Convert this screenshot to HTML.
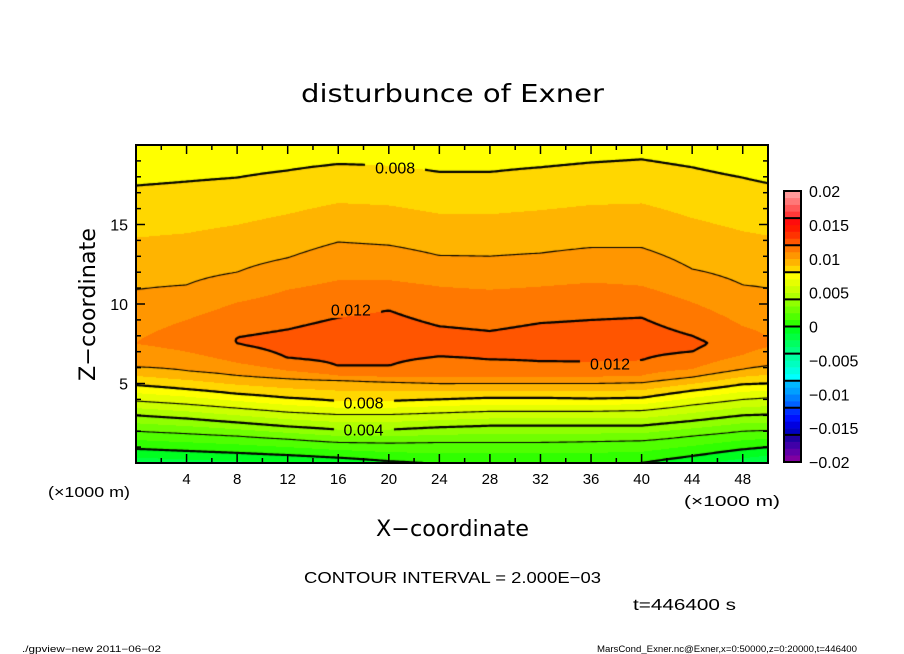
<!DOCTYPE html>
<html><head><meta charset="utf-8">
<style>
html,body{margin:0;padding:0;background:#fff;}
#wrap{position:relative;width:904px;height:654px;overflow:hidden;background:#fff;}
#field{position:absolute;left:136px;top:145px;}
#ov{position:absolute;left:0;top:0;}
text{font-family:"Liberation Sans","DejaVu Sans",sans-serif;fill:#000;}
</style></head>
<body>
<div id="wrap">
<canvas id="field" width="632" height="318"></canvas>
<svg id="ov" width="904" height="654"></svg>
</div>
<script>
// ---- data (values in units of 1e-3) ----
const colX   = [0,4,8,12,16,20,24,28,32,36,40,44,48,50];
const botV   = [-1.6,-1.4,-1.2,-1.0,-0.7,-0.2,0.1,0.1,0.1,0.1,0.0,-0.7,-1.5,-1.9];
const lvl2   = [2.0,1.85,1.7,1.5,1.3,1.25,1.3,1.3,1.3,1.35,1.4,1.7,2.0,2.05];
const lvl4   = [3.0,2.8,2.55,2.3,2.1,2.1,2.25,2.35,2.35,2.35,2.35,2.65,3.0,3.05];
const lvl6   = [3.9,3.7,3.45,3.2,3.05,3.05,3.15,3.25,3.25,3.25,3.3,3.65,4.0,4.1];
const lvl8   = [4.9,4.65,4.35,4.1,3.9,3.9,4.0,4.1,4.1,4.05,4.1,4.55,4.95,5.0];
const lvl10  = [6.05,5.8,5.5,5.3,5.2,5.1,5.0,5.0,5.0,5.0,5.05,5.4,5.9,6.1];
const lvl11lo= [7.5,7.0,6.3,5.8,5.5,5.4,5.4,5.4,5.4,5.4,5.5,5.9,6.8,7.3];
const lvl12lo= [null,null,7.5,6.6,6.1,6.1,6.7,6.5,6.4,6.35,6.45,7.0,null,null];
const peakV  = [11.05,11.5,12.02,12.4,12.6,12.6,12.4,12.35,12.45,12.5,12.5,12.25,11.5,11.05];
const peakZ  = [7.55,7.8,7.7,7.5,7.6,7.8,7.6,7.4,7.6,7.7,7.8,7.5,7.6,7.6];
const lvl12hi= [null,null,7.9,8.4,9.15,9.6,8.6,8.3,8.8,9.0,9.15,8.0,null,null];
const lvl11hi= [7.6,9.0,10.1,10.9,11.5,11.5,11.1,10.9,11.1,11.35,11.15,10.1,8.6,7.95];
const lvl10hi= [10.9,11.2,12.0,12.9,13.9,13.7,13.05,13.0,13.2,13.55,13.55,12.2,11.2,11.0];
const lvl8hi = [17.45,17.7,17.95,18.4,18.8,18.7,18.3,18.3,18.6,18.9,19.1,18.6,17.95,17.6];
const topV   = [7.2,7.3,7.4,7.5,7.6,7.6,7.5,7.5,7.5,7.6,7.6,7.5,7.3,7.2];
const contourLevels = [0,2,4,6,8,10,12];
const xTicks = [4,8,12,16,20,24,28,32,36,40,44,48];
const zTicks = [5,10,15];
const cbTicks = [0.02,0.015,0.01,0.005,0,-0.005,-0.01,-0.015,-0.02];
const cbLabels = ["0.02","0.015","0.01","0.005","0","\u22120.005","\u22120.01","\u22120.015","\u22120.02"];
const bandColors = ["#8000a0","#6000a8","#4000a8","#2000a0","#0000c0","#0000e0","#0010ff","#0030ff",
 "#0060ff","#0080ff","#00a0ff","#00b8ff","#00ffff","#00ffe0","#00ffc0","#00ffa0",
 "#00ff80","#00ff60","#00ff40","#00ff20","#30ff00","#50ff00","#70ff00","#90ff00",
 "#b0ff00","#ccff00","#e6ff00","#ffff00","#ffd700","#ffb400","#ff9600","#ff7800",
 "#ff5500","#ff3300","#ff1a00","#ff0c0c","#ff3838","#ff5858","#ff7878","#ff9898"];
const contourLabels = [
 {text:"0.008", x:20.5, z:18.6},{text:"0.012", x:17.0, z:9.65},
 {text:"0.012", x:37.5, z:6.25},{text:"0.008", x:18.0, z:3.8},{text:"0.004", x:18.0, z:2.1}];

// ---- axes ----
const PX0=136, PX1=768, PY0=145, PY1=463;
const sx = x => PX0 + (x/50)*(PX1-PX0);
const sz = z => PY1 - (z/20)*(PY1-PY0);
const CB_T=191, CB_B=462;
const scb = v => CB_B - (v+0.02)/0.04*(CB_B-CB_T);

// ---- profiles ----
const profiles = colX.map((_,i)=>{
  const p=[[0,botV[i]],[lvl2[i],2],[lvl4[i],4],[lvl6[i],6],[lvl8[i],8],[lvl10[i],10],[lvl11lo[i],11]];
  if(lvl12lo[i]!==null) p.push([lvl12lo[i],12]);
  p.push([peakZ[i],peakV[i]]);
  if(lvl12hi[i]!==null) p.push([lvl12hi[i],12]);
  p.push([lvl11hi[i],11],[lvl10hi[i],10],[lvl8hi[i],8],[20,topV[i]]);
  p.sort((a,b)=>a[0]-b[0]);
  return p;
});
function profVal(p,z){
  if(z<=p[0][0]) return p[0][1];
  for(let k=0;k<p.length-1;k++){
    const a=p[k],b=p[k+1];
    if(z<=b[0]){ const t=b[0]>a[0]?(z-a[0])/(b[0]-a[0]):0; return a[1]+t*(b[1]-a[1]); }
  }
  return p[p.length-1][1];
}
function field(x,z){
  let i=0; while(i<colX.length-2 && x>colX[i+1]) i++;
  const t=Math.max(0,Math.min(1,(x-colX[i])/(colX[i+1]-colX[i])));
  return profVal(profiles[i],z)*(1-t)+profVal(profiles[i+1],z)*t;
}
function hex(c){return [parseInt(c.substr(1,2),16),parseInt(c.substr(3,2),16),parseInt(c.substr(5,2),16)];}
const rgb = bandColors.map(hex);

// ---- fill ----
const cv=document.getElementById('field'), ctx=cv.getContext('2d');
const W=cv.width,H=cv.height;
const img=ctx.createImageData(W,H);
for(let py=0;py<H;py++){
  const z=20-(py+0.5)/H*20;
  for(let px=0;px<W;px++){
    const x=(px+0.5)/W*50;
    const v=field(x,z);
    let b=Math.floor(v+20); b=Math.max(0,Math.min(39,b));
    const c=rgb[b], o=(py*W+px)*4;
    img.data[o]=c[0];img.data[o+1]=c[1];img.data[o+2]=c[2];img.data[o+3]=255;
  }
}
ctx.putImageData(img,0,0);

// ---- contours (marching squares) ----
const STEP=2, NX=Math.ceil(W/STEP), NY=Math.ceil(H/STEP);
const G=[];
for(let j=0;j<=NY;j++){const row=[];for(let i=0;i<=NX;i++){row.push(field(Math.min(W,i*STEP)/W*50,20-Math.min(H,j*STEP)/H*20));}G.push(row);}
ctx.strokeStyle="#000";ctx.lineCap="round";
contourLevels.forEach(L=>{
  ctx.lineWidth=(L%4===0)?2.2:1.1;
  ctx.beginPath();
  for(let j=0;j<NY;j++)for(let i=0;i<NX;i++){
    const x0=i*STEP,y0=j*STEP,x1=x0+STEP,y1=y0+STEP;
    const a=G[j][i],b=G[j][i+1],c=G[j+1][i+1],d=G[j+1][i];
    const pts=[];
    const e=(va,vb,xa,ya,xb,yb)=>{ if((va<L)!==(vb<L)){const t=(L-va)/(vb-va);pts.push([xa+t*(xb-xa),ya+t*(yb-ya)]);} };
    e(a,b,x0,y0,x1,y0);e(b,c,x1,y0,x1,y1);e(c,d,x1,y1,x0,y1);e(d,a,x0,y1,x0,y0);
    for(let k=0;k+1<pts.length;k+=2){ctx.moveTo(pts[k][0],pts[k][1]);ctx.lineTo(pts[k+1][0],pts[k+1][1]);}
  }
  ctx.stroke();
});
// clear gaps for labels
contourLabels.forEach(l=>{
  const cx=sx(l.x)-PX0, cy=sz(l.z)-PY0;
  ctx.putImageData(img,0,0,Math.round(cx-30),Math.round(cy-8),60,16);
});

// ---- SVG overlay ----
const NS="http://www.w3.org/2000/svg", svg=document.getElementById('ov');
function mk(tag,attrs,parent){const el=document.createElementNS(NS,tag);for(const k in attrs)el.setAttribute(k,attrs[k]);(parent||svg).appendChild(el);return el;}
function txt(s,attrs){const t=mk('text',attrs);t.textContent=s;return t;}

contourLabels.forEach(l=>{
  const t=txt(l.text,{x:sx(l.x),y:sz(l.z)+6,'font-size':16,'text-anchor':'middle'});
  
  
});

// frame
const fr=mk('rect',{x:PX0,y:PY0,width:PX1-PX0,height:PY1-PY0,fill:'none',stroke:'#000','stroke-width':2});


// ticks
const tg=mk('g',{stroke:'#000','stroke-width':1.5});


for(let x=2;x<50;x+=2){
  const len=(x%4===0)?9:5, X=sx(x);
  mk('line',{x1:X,y1:PY1,x2:X,y2:PY1-len},tg);
  mk('line',{x1:X,y1:PY0,x2:X,y2:PY0+len},tg);
}
for(let z=1;z<20;z++){
  const len=(z%5===0)?9:5, Y=sz(z);
  mk('line',{x1:PX0,y1:Y,x2:PX0+len,y2:Y},tg);
  mk('line',{x1:PX1,y1:Y,x2:PX1-len,y2:Y},tg);
}
xTicks.forEach(v=>{
  const t=txt(String(v),{x:sx(v),y:484,'font-size':15,'text-anchor':'middle'});
  
  
});
zTicks.forEach(v=>{
  const t=txt(String(v),{x:128,y:sz(v)+6,'font-size':16,'text-anchor':'end'});
  
  
});

// colorbar
bandColors.forEach((c,k)=>{
  const v0=-0.02+k*0.001;
  const r=mk('rect',{x:784,y:scb(v0+0.001),width:17,height:scb(v0)-scb(v0+0.001)+0.3,fill:c});
  
  
});
for(let k=1;k<10;k++){const Y=scb(-0.02+k*0.004);mk('line',{x1:784,y1:Y,x2:801,y2:Y,stroke:'#000','stroke-width':2});}
const cbf=mk('rect',{x:784,y:CB_T,width:17,height:CB_B-CB_T,fill:'none',stroke:'#000','stroke-width':2});


cbTicks.forEach((v,k)=>{
  const t=txt(cbLabels[k],{x:809,y:scb(v)+6,'font-size':16});
  
  
});
</script>
<svg width="904" height="654" style="position:absolute;left:0;top:0;pointer-events:none">
<text x="301" y="102" font-size="25" textLength="303" lengthAdjust="spacingAndGlyphs" style="font-family:'DejaVu Sans',sans-serif">disturbunce of Exner</text>
<text x="48" y="497" font-size="15" textLength="82" lengthAdjust="spacingAndGlyphs">(×1000 m)</text>
<text x="684" y="506" font-size="15" textLength="96" lengthAdjust="spacingAndGlyphs">(×1000 m)</text>
<text x="376" y="536" font-size="22" textLength="153" lengthAdjust="spacingAndGlyphs" style="font-family:'DejaVu Sans',sans-serif">X−coordinate</text>
<text transform="translate(95,381) rotate(-90)" x="0" y="0" font-size="22" textLength="153" lengthAdjust="spacingAndGlyphs" style="font-family:'DejaVu Sans',sans-serif">Z−coordinate</text>
<text x="304" y="583" font-size="16" textLength="297" lengthAdjust="spacingAndGlyphs">CONTOUR INTERVAL = 2.000E−03</text>
<text x="633" y="610" font-size="16" textLength="103" lengthAdjust="spacingAndGlyphs">t=446400 s</text>
<text x="22" y="652" font-size="9" textLength="139" lengthAdjust="spacingAndGlyphs">./gpview−new  2011−06−02</text>
<text x="597" y="652" font-size="9" textLength="260" lengthAdjust="spacingAndGlyphs">MarsCond_Exner.nc@Exner,x=0:50000,z=0:20000,t=446400</text>
</svg>
</body></html>
